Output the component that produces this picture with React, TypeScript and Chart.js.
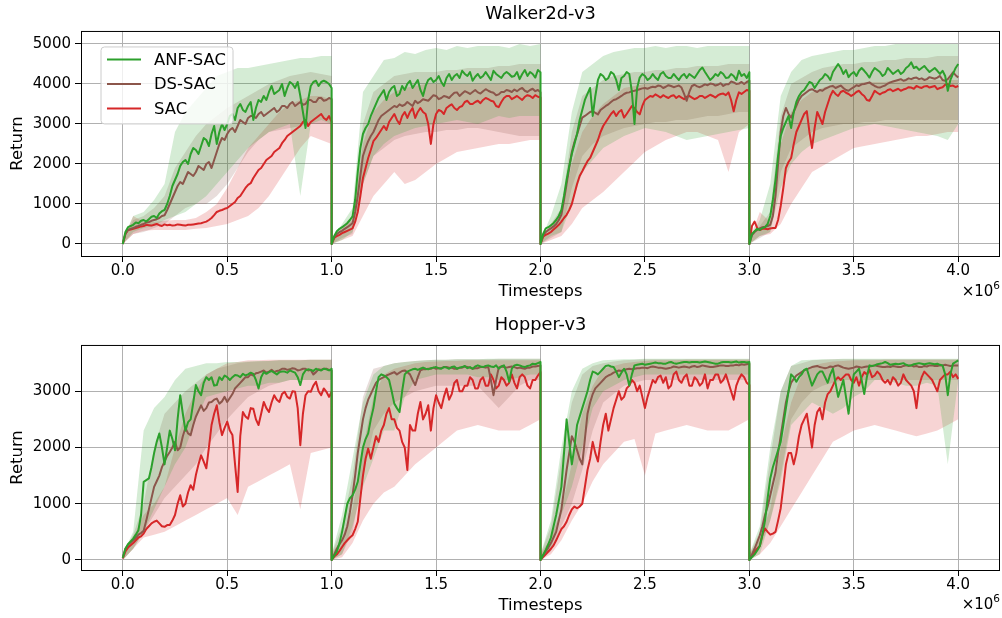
import { useEffect, useRef } from "react";
import { Chart, registerables } from "chart.js";

Chart.register(...registerables);

const FONT = "'DejaVu Sans', 'Liberation Sans', sans-serif";
const RUN_LENGTH = 1_000_000;
const CANVAS_W = 1002;
const CANVAS_H = 309;

const SERIES_LABELS = ["ANF-SAC", "DS-SAC", "SAC"];
const SERIES_COLORS = ["#2ca02c", "#8c564b", "#d62728"];
const BAND_COLORS = ["rgba(44,160,44,0.2)", "rgba(140,86,75,0.2)", "rgba(214,39,40,0.2)"];

const X_TICKS = [0, 500000, 1000000, 1500000, 2000000, 2500000, 3000000, 3500000, 4000000];
const WALKER_Y_TICKS = [0, 1000, 2000, 3000, 4000, 5000];
const HOPPER_Y_TICKS = [0, 1000, 2000, 3000];

// Each series is stored as four consecutive training runs of 1e6 timesteps.
// Mean returns (dense sampling) and band edges (coarser sampling) per run.

// ---------- Walker2d-v3 ----------
const walkerAnf = [
  [0, 300, 420, 450, 480, 540, 520, 580, 600, 560, 620, 680, 700, 650, 760, 820, 850, 1000, 1200, 1450, 1600, 1750, 1950, 2050, 2100, 2000, 2250, 2400, 2350, 2250, 2450, 2650, 2600, 2450, 2750, 2950, 2500, 2800, 3000, 2850, 3000, 3200, 3250, 3100, 3400, 3500, 3350, 3300, 3450, 3550, 3100, 3400, 3600, 3550, 3700, 3600, 3800, 3950, 3750, 3800, 3850, 4000, 3700, 3900, 4050, 4000, 3900, 4050, 3700, 3300, 2900, 3600, 3950, 4050, 4080, 3950, 4050, 4080, 4050, 4000, 3900],
  [0, 200, 320, 380, 420, 470, 520, 600, 690, 1100, 1800, 2400, 2750, 2900, 3000, 3200, 3350, 3500, 3650, 3750, 3850, 3600, 3800, 3900, 3950, 3700, 3750, 3950, 3850, 4000, 4080, 3900, 4000, 4100, 3850, 3700, 3950, 4100, 4150, 4050, 4100, 4200, 4050, 3950, 4150, 4250, 4100, 4200, 4250, 4150, 4330, 4250, 4200, 4300, 4080, 4180, 4250, 4150, 4200, 4300, 4200, 4100, 4330, 4250, 4200, 4150, 4250, 4300, 4250, 4180, 4200, 4300, 4120, 4250, 4350, 4200, 4300, 4250, 4160, 4350, 4290],
  [0, 250, 390, 420, 470, 520, 600, 700, 850, 1200, 1600, 1950, 2250, 2500, 2750, 3100, 3350, 3600, 3750, 3900, 3200, 3700, 4100, 4250, 4200, 4100, 4150, 4300, 4250, 4100, 3850, 4150, 4200, 4300, 4250, 3800, 3000, 3900, 4160, 4250, 4200, 4100, 4150, 4250, 4160, 4100, 4250, 4300, 4200, 4150, 4150, 4250, 4170, 4100, 4200, 4250, 4150, 4250, 4200, 4150, 4250, 4350, 4410, 4300, 4200, 4100, 4160, 4250, 4200, 4300, 4250, 4150, 4160, 4250, 4200, 4100, 4330, 4200, 4250, 4150, 4290],
  [0, 250, 320, 380, 350, 400, 420, 500, 700, 1100, 1600, 2200, 2700, 2900, 3050, 3200, 2900, 3300, 3550, 3700, 3800, 3850, 3950, 4050, 4020, 3900, 4000, 4100, 4150, 4250, 4200, 4100, 4300, 4400, 4500, 4400, 4250, 4350, 4170, 4250, 4300, 4200, 4330, 4400, 4330, 4250, 4160, 4300, 4400, 4350, 4300, 4200, 4250, 4400, 4330, 4250, 4300, 4350, 4250, 4300, 4400, 4450, 4540, 4400, 4430, 4350, 4400, 4450, 4370, 4300, 4350, 4400, 4330, 4250, 4330, 4200, 3830, 4100, 4250, 4400, 4500],
];
const walkerDs = [
  [0, 250, 350, 380, 400, 430, 450, 480, 500, 540, 550, 580, 600, 620, 650, 700, 720, 850, 1000, 1150, 1300, 1450, 1550, 1500, 1650, 1800, 1750, 1700, 1800, 1950, 1900, 1850, 2000, 2050, 1900, 2100, 2300, 2500, 2650, 2600, 2750, 2850, 2900, 2800, 2950, 3100, 3050, 3000, 3150, 3200, 3200, 3150, 3250, 3300, 3200, 3250, 3300, 3350, 3400, 3300, 3350, 3450, 3450, 3400, 3500, 3550, 3450, 3500, 3550, 3480, 3500, 3600, 3600, 3550, 3550, 3650, 3650, 3580, 3600, 3650, 3620],
  [0, 180, 250, 300, 330, 380, 420, 470, 520, 800, 1200, 1700, 2200, 2400, 2570, 2700, 2800, 2950, 3100, 3200, 3250, 3300, 3350, 3400, 3450, 3420, 3490, 3450, 3480, 3550, 3500, 3450, 3580, 3520, 3560, 3620, 3600, 3580, 3650, 3720, 3700, 3620, 3650, 3700, 3680, 3650, 3720, 3780, 3790, 3700, 3760, 3820, 3790, 3750, 3800, 3850, 3790, 3760, 3820, 3870, 3830, 3800, 3780, 3720, 3740, 3800, 3800, 3850, 3830, 3800, 3860, 3820, 3870, 3900, 3830, 3800, 3850, 3880, 3820, 3850, 3790],
  [0, 220, 300, 350, 390, 440, 500, 600, 730, 1100, 1500, 1900, 2300, 2550, 2740, 2950, 3160, 3200, 3250, 3300, 3320, 3280, 3240, 3350, 3400, 3450, 3490, 3550, 3600, 3620, 3660, 3700, 3750, 3780, 3790, 3820, 3830, 3850, 3870, 3890, 3900, 3880, 3910, 3930, 3920, 3960, 3950, 3900, 3930, 3970, 3950, 3920, 3940, 3960, 3910, 3750, 3580, 3800, 3950, 3980, 3940, 3920, 3950, 3990, 3970, 4010, 4000, 3960, 3980, 4020, 3950, 3990, 3990, 4060, 4040, 4000, 4010, 4050, 4000, 4050, 4080],
  [0, 220, 300, 350, 390, 420, 430, 450, 480, 700, 1200, 2000, 2800, 3200, 3400, 3250, 3160, 3300, 3450, 3600, 3700, 3750, 3800, 3850, 3870, 3830, 3800, 3850, 3830, 3880, 3910, 3940, 3950, 3900, 3930, 3960, 3900, 3850, 3830, 3880, 3920, 3970, 3950, 3990, 4000, 4020, 4040, 3990, 3950, 3920, 3910, 3940, 3960, 4010, 4040, 4060, 4080, 4100, 4120, 4080, 4100, 4140, 4120, 4150, 4160, 4120, 4140, 4100, 4120, 4170, 4150, 4130, 4160, 4200, 4100, 4080, 4120, 4200, 4290, 4220, 4160],
];
const walkerSac = [
  [0, 250, 350, 360, 380, 400, 420, 440, 450, 480, 470, 460, 480, 500, 470, 450, 490, 470, 480, 460, 470, 490, 480, 470, 460, 480, 480, 490, 500, 510, 520, 540, 560, 600, 650, 720, 800, 830, 850, 880, 900, 950, 1000, 1050, 1150, 1200, 1300, 1400, 1480, 1520, 1650, 1750, 1850, 1900, 2000, 2100, 2150, 2200, 2300, 2350, 2400, 2520, 2600, 2700, 2750, 2800, 2850, 2900, 2950, 3050, 3100, 2950, 3050, 3100, 3150, 3200, 3250, 3150, 3100, 3200, 3050],
  [0, 150, 200, 230, 270, 300, 330, 360, 390, 550, 800, 1200, 1650, 1900, 2150, 2350, 2570, 2650, 2750, 2850, 2950, 2850, 3050, 3150, 3250, 3100, 3000, 3200, 3300, 3150, 3300, 3400, 3150, 3300, 3400, 3300, 3250, 3000, 2500, 3000, 3250, 3350, 3320, 3250, 3400, 3450, 3490, 3400, 3350, 3420, 3450, 3550, 3580, 3500, 3500, 3550, 3580, 3520, 3600, 3650, 3620, 3580, 3560, 3450, 3420, 3550, 3650, 3700, 3700, 3620, 3660, 3700, 3650, 3600, 3680, 3720, 3700, 3650, 3720, 3680, 3660],
  [0, 180, 230, 260, 300, 360, 420, 480, 560, 650, 730, 850, 1000, 1250, 1500, 1700, 1820, 1950, 2070, 2150, 2300, 2450, 2600, 2800, 2950, 3050, 3150, 3250, 3320, 3200, 3300, 3350, 3160, 3250, 3350, 3450, 3400, 3300, 3240, 3450, 3600, 3650, 3700, 3680, 3740, 3700, 3660, 3720, 3680, 3650, 3700, 3720, 3650, 3700, 3660, 3620, 3680, 3700, 3660, 3620, 3650, 3700, 3700, 3650, 3690, 3730, 3700, 3660, 3720, 3750, 3760, 3720, 3790, 3600, 3320, 3600, 3790, 3750, 3800, 3850, 3830],
  [0, 450, 560, 400, 350, 380, 380, 370, 390, 400, 400, 600, 950, 1400, 1900, 2050, 2150, 2500, 2800, 2950, 3100, 3250, 3320, 2800, 2400, 2900, 3300, 3150, 3000, 3300, 3500, 3700, 3830, 3750, 3700, 3800, 3830, 3780, 3750, 3700, 3740, 3800, 3830, 3750, 3700, 3600, 3580, 3700, 3830, 3780, 3740, 3780, 3800, 3850, 3870, 3820, 3850, 3880, 3830, 3860, 3880, 3920, 3910, 3880, 3950, 3920, 3900, 3940, 3950, 3910, 3930, 3950, 3870, 3900, 3920, 3980, 4000, 3950, 3960, 3920, 3950],
];
const walkerAnfHigh = [
  [100, 700, 800, 1100, 1500, 2800, 3300, 3600, 3900, 4200, 4300, 4400, 4400, 4450, 4500, 4550, 4600, 4650, 4650, 4700, 4700],
  [100, 500, 900, 3800, 4200, 4600, 4650, 4800, 4750, 4850, 4900, 4850, 4950, 4900, 4950, 4950, 4950, 4900, 5000, 4950, 5000],
  [100, 700, 1500, 3300, 4300, 4500, 4700, 4800, 4850, 4900, 4900, 4950, 4900, 4950, 4950, 4900, 4950, 4950, 4950, 4950, 4950],
  [100, 600, 1500, 3700, 4300, 4600, 4700, 4750, 4800, 4850, 4850, 4900, 4950, 4950, 5000, 5000, 5000, 5000, 5000, 5000, 5000],
];
const walkerAnfLow = [
  [0, 300, 400, 450, 600, 700, 800, 1000, 1200, 1500, 1800, 2100, 2400, 2600, 2800, 2900, 3000, 1200, 3000, 3100, 3000],
  [0, 100, 300, 1500, 2200, 2500, 2700, 2800, 2900, 2950, 3000, 3050, 3100, 3050, 3000, 3100, 3200, 3150, 3200, 3200, 3200],
  [0, 200, 300, 1000, 1800, 2100, 2400, 2550, 2700, 2800, 2900, 2850, 2800, 2700, 2600, 2650, 2700, 2750, 2800, 2850, 2900],
  [0, 200, 300, 1400, 2000, 2300, 2500, 2600, 2700, 2800, 2900, 2950, 3000, 2950, 2900, 2850, 2800, 2750, 2700, 2600, 3000],
];
const walkerDsHigh = [
  [100, 600, 700, 900, 1200, 1900, 2300, 2700, 3000, 3200, 3400, 3550, 3700, 3850, 4000, 4100, 4200, 4250, 4300, 4250, 4200],
  [100, 450, 700, 3000, 3800, 4000, 4200, 4250, 4300, 4300, 4300, 4350, 4350, 4400, 4400, 4400, 4450, 4450, 4500, 4500, 4500],
  [100, 500, 900, 2800, 3700, 3900, 4100, 4200, 4250, 4300, 4300, 4350, 4350, 4400, 4400, 4450, 4450, 4450, 4500, 4500, 4500],
  [100, 450, 800, 3200, 4000, 4150, 4300, 4400, 4450, 4500, 4500, 4550, 4550, 4600, 4600, 4650, 4650, 4650, 4700, 4700, 4700],
];
const walkerDsLow = [
  [0, 250, 300, 400, 500, 700, 900, 1000, 1000, 1200, 1500, 1900, 2300, 2600, 2800, 2850, 2900, 2950, 3000, 3000, 3000],
  [0, 150, 250, 1500, 2200, 2400, 2600, 2700, 2750, 2800, 2800, 2850, 2850, 2900, 2900, 2850, 2800, 2750, 2700, 2700, 2700],
  [0, 150, 300, 1400, 2200, 2500, 2700, 2800, 2900, 2950, 3000, 3050, 3050, 3100, 3100, 3150, 3200, 3200, 3250, 3300, 3300],
  [0, 150, 300, 1800, 2400, 2600, 2800, 2900, 2950, 3000, 3000, 3050, 3050, 3100, 3100, 3100, 3100, 3100, 3100, 3100, 3100],
];
const walkerSacHigh = [
  [100, 700, 550, 550, 580, 600, 600, 650, 800, 1000, 1400, 1900, 2400, 2700, 3000, 3300, 3500, 3600, 3700, 3700, 3600],
  [100, 400, 600, 2500, 3300, 3600, 3800, 3900, 3950, 4000, 4000, 4000, 4000, 4000, 4000, 4000, 4000, 4000, 4000, 4000, 4000],
  [100, 500, 800, 2000, 2800, 3200, 3500, 3700, 3900, 3950, 4000, 4000, 4000, 4000, 4000, 4000, 4000, 4000, 4000, 4000, 4000],
  [100, 800, 550, 2500, 3300, 3600, 3800, 3900, 4000, 4000, 4000, 4050, 4050, 4050, 4100, 4100, 4100, 4100, 4100, 4100, 4100],
];
const walkerSacLow = [
  [0, 250, 330, 350, 350, 350, 350, 380, 400, 450, 500, 600, 700, 900, 1200, 1600, 2000, 2400, 2700, 2600, 2500],
  [0, 100, 200, 700, 1200, 1500, 1800, 1500, 1600, 1800, 2000, 2150, 2300, 2350, 2400, 2450, 2500, 2500, 2550, 2600, 2600],
  [0, 100, 200, 500, 900, 1100, 1300, 1550, 1800, 2050, 2300, 2450, 2600, 2700, 2800, 2800, 2700, 2600, 1800, 2800, 3000],
  [0, 200, 250, 500, 1000, 1400, 1800, 1950, 2100, 2250, 2400, 2450, 2500, 2550, 2600, 2650, 2700, 2700, 2750, 2800, 2800],
];

// ---------- Hopper-v3 ----------
const hopperAnf = [
  [40, 200, 280, 330, 380, 450, 530, 800, 1390, 1420, 1450, 1650, 1900, 2100, 2250, 2000, 1700, 2000, 2300, 2150, 1950, 2500, 2930, 2600, 2300, 2450, 2500, 2800, 3110, 3000, 2930, 3150, 3250, 3200, 3250, 3100, 3110, 3250, 3200, 3280, 3250, 3200, 3250, 3290, 3280, 3250, 3310, 3280, 3300, 3330, 3310, 3200, 3050, 3250, 3340, 3310, 3340, 3360, 3330, 3300, 3340, 3350, 3350, 3330, 3370, 3350, 3330, 3250, 3110, 3300, 3370, 3390, 3380, 3360, 3400, 3380, 3370, 3400, 3390, 3370, 3400],
  [0, 80, 150, 300, 500, 750, 1000, 1100, 1150, 1250, 1390, 1700, 2000, 2150, 2250, 2500, 2700, 3000, 3250, 3300, 3280, 3250, 3200, 3000, 2780, 2700, 2630, 3000, 3300, 3350, 3370, 3390, 3400, 3380, 3400, 3420, 3400, 3390, 3410, 3420, 3430, 3410, 3400, 3430, 3420, 3400, 3430, 3440, 3400, 3420, 3430, 3450, 3410, 3430, 3400, 3440, 3460, 3440, 3430, 3450, 3460, 3440, 3430, 3460, 3400, 3440, 3460, 3350, 3170, 3400, 3460, 3470, 3460, 3440, 3430, 3450, 3460, 3490, 3480, 3500, 3520],
  [0, 90, 180, 280, 400, 600, 800, 1050, 1300, 1900, 2500, 2100, 1700, 2000, 2400, 2550, 2700, 2850, 3000, 3200, 3350, 3330, 3300, 3350, 3400, 3450, 3460, 3440, 3430, 3350, 3250, 3330, 3400, 3300, 3100, 3300, 3460, 3470, 3480, 3490, 3470, 3480, 3490, 3500, 3510, 3500, 3500, 3490, 3490, 3510, 3520, 3500, 3490, 3500, 3510, 3520, 3520, 3510, 3520, 3520, 3520, 3510, 3520, 3530, 3520, 3510, 3500, 3490, 3490, 3510, 3520, 3520, 3520, 3510, 3520, 3530, 3510, 3520, 3520, 3510, 3520],
  [0, 50, 100, 170, 250, 450, 700, 1100, 1450, 1650, 1800, 1950, 2100, 2400, 2700, 3000, 3300, 3250, 3170, 3250, 3300, 3380, 3400, 3250, 3100, 3200, 3300, 3350, 3350, 3250, 3150, 3300, 3400, 3150, 2900, 3050, 3200, 2900, 2600, 3000, 3300, 3350, 3400, 3200, 2950, 3250, 3460, 3450, 3460, 3480, 3490, 3500, 3520, 3500, 3470, 3480, 3490, 3480, 3490, 3500, 3470, 3460, 3460, 3480, 3490, 3500, 3490, 3480, 3490, 3500, 3490, 3480, 3490, 3470, 3460, 3300, 2930, 3300, 3490, 3520, 3550],
];
const hopperDs = [
  [40, 200, 270, 310, 350, 400, 450, 480, 520, 700, 900, 1100, 1300, 1400, 1500, 1650, 1750, 1850, 1920, 2000, 2100, 1950, 2000, 2200, 2350, 2250, 2220, 2400, 2550, 2650, 2750, 2650, 2700, 2800, 2810, 2850, 2870, 2780, 2820, 2900, 2810, 2880, 2950, 3050, 3100, 3150, 3200, 3250, 3250, 3300, 3280, 3320, 3330, 3350, 3370, 3330, 3350, 3380, 3340, 3360, 3370, 3400, 3400, 3380, 3390, 3410, 3400, 3370, 3380, 3400, 3400, 3370, 3380, 3300, 3340, 3390, 3380, 3400, 3400, 3380, 3370],
  [0, 100, 200, 280, 350, 450, 600, 850, 1150, 1500, 1900, 2200, 2500, 2700, 2850, 2950, 3050, 3150, 3200, 3230, 3250, 3280, 3300, 3320, 3340, 3300, 3330, 3360, 3370, 3340, 3300, 3200, 3110, 3250, 3370, 3390, 3390, 3400, 3400, 3420, 3400, 3410, 3410, 3430, 3430, 3420, 3420, 3400, 3400, 3420, 3420, 3440, 3430, 3420, 3400, 3410, 3410, 3430, 3430, 3420, 3430, 3200, 2930, 3200, 3420, 3440, 3430, 3420, 3430, 3440, 3430, 3410, 3420, 3410, 3400, 3420, 3420, 3440, 3440, 3450, 3460],
  [0, 80, 150, 220, 300, 400, 500, 700, 900, 1250, 1600, 1900, 2200, 2100, 1950, 1800, 1700, 2150, 2600, 2800, 2950, 3050, 3100, 3150, 3200, 3250, 3280, 3300, 3330, 3350, 3370, 3360, 3380, 3390, 3400, 3390, 3400, 3410, 3410, 3420, 3420, 3410, 3430, 3440, 3430, 3420, 3420, 3410, 3400, 3410, 3420, 3440, 3430, 3420, 3430, 3440, 3430, 3420, 3440, 3450, 3430, 3440, 3460, 3450, 3440, 3430, 3430, 3440, 3450, 3460, 3460, 3450, 3450, 3460, 3460, 3470, 3460, 3480, 3470, 3480, 3490],
  [0, 100, 200, 320, 440, 600, 800, 950, 1150, 1350, 1550, 1900, 2200, 2500, 2800, 3000, 3150, 3220, 3280, 3310, 3340, 3370, 3390, 3410, 3430, 3440, 3450, 3430, 3420, 3410, 3420, 3440, 3430, 3450, 3460, 3440, 3420, 3410, 3400, 3410, 3420, 3440, 3430, 3420, 3430, 3440, 3440, 3450, 3460, 3450, 3440, 3430, 3430, 3440, 3430, 3450, 3440, 3430, 3430, 3450, 3460, 3450, 3460, 3440, 3450, 3430, 3430, 3450, 3440, 3460, 3460, 3450, 3450, 3460, 3460, 3470, 3460, 3450, 3460, 3460, 3460],
];
const hopperSac = [
  [30, 150, 220, 260, 300, 350, 400, 420, 470, 550, 600, 650, 680, 700, 650, 600, 590, 620, 620, 700, 800, 1000, 1150, 950, 1000, 1200, 1330, 1250, 1510, 1700, 1860, 1750, 1630, 2000, 2400, 2600, 2750, 2450, 2220, 2350, 2460, 2300, 2220, 1700, 1210, 2200, 2630, 2550, 2510, 2700, 2690, 2500, 2400, 2600, 2810, 2700, 2630, 2800, 2930, 2850, 2810, 2950, 2990, 2900, 2870, 3000, 2990, 2700, 2040, 2600, 2930, 3000, 2990, 3100, 3170, 3000, 2930, 3050, 2990, 2900, 2990],
  [0, 60, 100, 160, 230, 300, 350, 400, 440, 550, 680, 1100, 1500, 1800, 1980, 1800, 2000, 2200, 2100, 2300, 2400, 2600, 2700, 2500, 2500, 2350, 2300, 2100, 2000, 1600, 2400, 2300, 2300, 2600, 2810, 2500, 2600, 2750, 2300, 2700, 2930, 2800, 2700, 2900, 3050, 2850, 2950, 3150, 3200, 3000, 3000, 3100, 3100, 3250, 3200, 3050, 3050, 3200, 3250, 3100, 3100, 3300, 3200, 3050, 3100, 3250, 3200, 3100, 3150, 3300, 3150, 3050, 3250, 3300, 3250, 3100, 3050, 3200, 3200, 3280, 3340],
  [0, 50, 100, 150, 200, 260, 350, 450, 550, 600, 680, 800, 900, 950, 920, 950, 1000, 1300, 1600, 1800, 2100, 1900, 1750, 2100, 2400, 2600, 2300, 2500, 2700, 2850, 3000, 2850, 2900, 3050, 3100, 3200, 3150, 3000, 3100, 2900, 2700, 2900, 3050, 3200, 3150, 3250, 3280, 3150, 3250, 3050, 3100, 3300, 3350, 3200, 3150, 3250, 3300, 3100, 3100, 3250, 3200, 3100, 3150, 3300, 3050, 3200, 3200, 3300, 3300, 3150, 3200, 3300, 3150, 3000, 2850, 3100, 3220, 3300, 3250, 3150, 3110],
  [0, 80, 150, 200, 250, 450, 560, 500, 450, 470, 500, 700, 920, 1300, 1700, 1900, 1900, 1700, 1900, 2200, 2400, 2500, 2600, 2300, 2000, 2400, 2630, 2700, 2500, 2800, 2950, 3000, 3100, 3200, 3250, 3200, 3250, 3300, 3300, 3200, 3150, 3250, 3100, 3250, 3340, 3300, 3380, 3250, 3280, 3350, 3300, 3200, 3150, 3200, 3120, 3250, 3200, 3100, 3150, 3300, 3200, 3150, 3100, 3000, 2700, 3100, 3250, 3350, 3300, 3250, 3200, 3100, 3000, 3200, 3250, 3300, 3300, 3350, 3250, 3300, 3220],
];
const hopperAnfHigh = [
  [100, 500, 2300, 2700, 2900, 3200, 3400, 3450, 3500, 3500, 3520, 3520, 3530, 3540, 3540, 3550, 3550, 3550, 3560, 3560, 3560],
  [100, 800, 1800, 2800, 3300, 3450, 3500, 3520, 3540, 3550, 3560, 3560, 3570, 3570, 3570, 3580, 3580, 3580, 3580, 3580, 3580],
  [100, 700, 2000, 3000, 3400, 3500, 3550, 3560, 3570, 3570, 3580, 3580, 3580, 3580, 3580, 3580, 3580, 3580, 3580, 3580, 3580],
  [100, 600, 2000, 3000, 3450, 3550, 3560, 3570, 3570, 3580, 3580, 3580, 3580, 3580, 3580, 3580, 3580, 3580, 3580, 3580, 3580],
];
const hopperAnfLow = [
  [0, 200, 500, 900, 1300, 1700, 2000, 2500, 2900, 2950, 3000, 3050, 3100, 3100, 3150, 3150, 3200, 3200, 3200, 3200, 3200],
  [0, 100, 600, 1300, 1800, 2300, 2300, 2900, 3200, 3250, 3300, 3300, 3300, 3300, 3250, 3250, 3200, 3200, 3250, 3300, 3300],
  [0, 200, 800, 1300, 2000, 2700, 3000, 3100, 3200, 3250, 3300, 3300, 3300, 3300, 3300, 3300, 3300, 3300, 3300, 3300, 3300],
  [0, 100, 700, 1400, 2400, 2600, 2800, 2700, 2600, 2700, 2900, 3000, 3200, 3200, 3150, 3100, 3100, 3150, 3100, 1700, 3200],
];
const hopperDsHigh = [
  [100, 450, 1000, 2000, 2600, 2800, 3000, 3150, 3300, 3400, 3450, 3500, 3520, 3530, 3540, 3550, 3550, 3550, 3560, 3560, 3560],
  [100, 600, 1500, 2900, 3400, 3450, 3500, 3520, 3540, 3550, 3560, 3560, 3570, 3570, 3570, 3570, 3580, 3580, 3580, 3580, 3580],
  [100, 600, 1800, 2800, 3300, 3450, 3500, 3530, 3550, 3560, 3570, 3570, 3570, 3570, 3570, 3570, 3570, 3570, 3570, 3570, 3570],
  [100, 500, 1800, 3000, 3450, 3500, 3550, 3560, 3570, 3570, 3570, 3570, 3570, 3570, 3570, 3570, 3570, 3570, 3570, 3570, 3570],
];
const hopperDsLow = [
  [0, 200, 500, 800, 1100, 1300, 1500, 1700, 2000, 2250, 2500, 2700, 2900, 3000, 3100, 3150, 3200, 3200, 3200, 3200, 3200],
  [0, 100, 500, 1500, 2300, 2600, 2800, 2900, 3000, 3050, 3100, 3100, 3100, 3100, 3100, 2900, 2700, 2900, 3100, 3200, 3200],
  [0, 150, 600, 1000, 1600, 2300, 2800, 2950, 3100, 3150, 3200, 3200, 3200, 3200, 3200, 3200, 3200, 3200, 3200, 3200, 3200],
  [0, 200, 700, 1500, 2500, 2800, 3000, 3100, 3150, 3200, 3200, 3200, 3200, 3200, 3200, 3200, 3200, 3200, 3200, 3200, 3200],
];
const hopperSacHigh = [
  [100, 400, 800, 1000, 1300, 2000, 2600, 3000, 3300, 3400, 3500, 3520, 3550, 3550, 3560, 3560, 3560, 3560, 3560, 3560, 3560],
  [100, 400, 900, 2000, 2900, 3300, 3400, 3450, 3500, 3520, 3530, 3540, 3540, 3550, 3550, 3550, 3550, 3550, 3550, 3550, 3550],
  [100, 400, 900, 1700, 2600, 3100, 3400, 3450, 3500, 3520, 3540, 3550, 3550, 3550, 3560, 3560, 3560, 3560, 3560, 3560, 3560],
  [100, 400, 900, 2000, 2800, 3300, 3450, 3500, 3530, 3540, 3550, 3550, 3550, 3560, 3560, 3560, 3560, 3560, 3560, 3560, 3560],
];
const hopperSacLow = [
  [0, 200, 400, 450, 500, 600, 700, 800, 900, 1000, 1100, 800, 1300, 1400, 1500, 1600, 1700, 900, 1900, 1950, 2000],
  [0, 50, 300, 700, 1000, 1200, 1300, 1500, 1700, 1850, 2000, 2150, 2300, 2350, 2400, 2350, 2300, 2300, 2300, 2400, 2500],
  [0, 100, 350, 700, 1000, 1400, 1700, 1900, 2100, 2150, 1500, 2250, 2300, 2350, 2400, 2350, 2300, 2300, 2300, 2400, 2500],
  [0, 100, 300, 600, 900, 1200, 1500, 1800, 2100, 2200, 2300, 2350, 2400, 2350, 2300, 2250, 2200, 2250, 2300, 2400, 2500],
];

type Runs = number[][];

interface PanelSpec {
  title: string;
  top: number;
  yMin: number;
  yMax: number;
  yTicks: number[];
  lines: Runs[];
  lows: Runs[];
  highs: Runs[];
  titlePadTop: number;
  titlePadBottom: number;
  xAxisHeight: number;
  xTitlePadBottom: number;
  offsetBaseline: number;
  legend: boolean;
}

const PANELS: PanelSpec[] = [
  {
    title: "Walker2d-v3",
    top: 0,
    yMin: -300,
    yMax: 5325,
    yTicks: WALKER_Y_TICKS,
    lines: [walkerAnf, walkerDs, walkerSac],
    lows: [walkerAnfLow, walkerDsLow, walkerSacLow],
    highs: [walkerAnfHigh, walkerDsHigh, walkerSacHigh],
    titlePadTop: 3.3,
    titlePadBottom: 6.3,
    xAxisHeight: 53,
    xTitlePadBottom: 7.2,
    offsetBaseline: 40,
    legend: true,
  },
  {
    title: "Hopper-v3",
    top: 309,
    yMin: -178,
    yMax: 3823,
    yTicks: HOPPER_Y_TICKS,
    lines: [hopperAnf, hopperDs, hopperSac],
    lows: [hopperAnfLow, hopperDsLow, hopperSacLow],
    highs: [hopperAnfHigh, hopperDsHigh, hopperSacHigh],
    titlePadTop: 5.3,
    titlePadBottom: 9.3,
    xAxisHeight: 48,
    xTitlePadBottom: 2.2,
    offsetBaseline: 39.4,
    legend: false,
  },
];

// Runs are laid end to end along the timestep axis.
function toPoints(runs: Runs) {
  const pts: { x: number; y: number }[] = [];
  runs.forEach((run, r) => {
    run.forEach((y, k) => {
      pts.push({ x: (r + k / (run.length - 1)) * RUN_LENGTH, y });
    });
  });
  return pts;
}

function makeOverlay(spec: PanelSpec) {
  return {
    id: "panelOverlay",
    afterDraw(chart: any) {
      const { ctx, chartArea: a } = chart;
      ctx.save();
      // axes frame
      ctx.strokeStyle = "#000";
      ctx.lineWidth = 1;
      ctx.strokeRect(a.left + 0.5, a.top + 0.5, a.right - a.left - 1, a.bottom - a.top);

      // scale multiplier for the timestep axis
      const supSize = 10.5;
      ctx.fillStyle = "#000";
      ctx.textBaseline = "alphabetic";
      ctx.textAlign = "right";
      ctx.font = `${supSize}px ${FONT}`;
      const supW = ctx.measureText("6").width;
      const base = a.bottom + spec.offsetBaseline;
      ctx.fillText("6", a.right, base - 7);
      ctx.font = `15px ${FONT}`;
      ctx.fillText("\u00d710", a.right - supW, base);

      if (spec.legend) {
        const x0 = a.left + 20;
        const y0 = a.top + 16;
        const w = 132;
        const h = 77;
        const r = 3.5;
        ctx.beginPath();
        ctx.moveTo(x0 + r, y0);
        ctx.arcTo(x0 + w, y0, x0 + w, y0 + h, r);
        ctx.arcTo(x0 + w, y0 + h, x0, y0 + h, r);
        ctx.arcTo(x0, y0 + h, x0, y0, r);
        ctx.arcTo(x0, y0, x0 + w, y0, r);
        ctx.closePath();
        ctx.fillStyle = "rgba(255,255,255,0.8)";
        ctx.fill();
        ctx.strokeStyle = "#cccccc";
        ctx.lineWidth = 1;
        ctx.stroke();
        ctx.font = `16.4px ${FONT}`;
        ctx.textAlign = "left";
        ctx.textBaseline = "middle";
        for (let i = 0; i < SERIES_LABELS.length; i++) {
          const y = y0 + 12.5 + i * 24.5;
          ctx.strokeStyle = SERIES_COLORS[i];
          ctx.lineWidth = 2;
          ctx.beginPath();
          ctx.moveTo(x0 + 6, y);
          ctx.lineTo(x0 + 40, y);
          ctx.stroke();
          ctx.fillStyle = "#000";
          ctx.fillText(SERIES_LABELS[i], x0 + 53, y + 1);
        }
      }
      ctx.restore();
    },
  };
}

function Panel({ spec }: { spec: PanelSpec }) {
  const canvasRef = useRef<HTMLCanvasElement | null>(null);

  useEffect(() => {
    const canvas = canvasRef.current;
    if (!canvas) return;

    const datasets: any[] = [];
    spec.lines.forEach((runs, i) => {
      datasets.push({
        label: SERIES_LABELS[i],
        data: toPoints(runs),
        borderColor: SERIES_COLORS[i],
        backgroundColor: SERIES_COLORS[i],
        borderWidth: 2,
        borderJoinStyle: "round",
        pointRadius: 0,
        pointHoverRadius: 0,
        fill: false,
        tension: 0,
      });
    });
    spec.lows.forEach((runs, i) => {
      const lowIndex = datasets.length;
      datasets.push({
        label: `${SERIES_LABELS[i]} lower`,
        data: toPoints(runs),
        borderColor: "rgba(0,0,0,0)",
        borderWidth: 0,
        pointRadius: 0,
        pointHoverRadius: 0,
        fill: false,
        tension: 0,
      });
      datasets.push({
        label: `${SERIES_LABELS[i]} upper`,
        data: toPoints(spec.highs[i]),
        borderColor: "rgba(0,0,0,0)",
        backgroundColor: BAND_COLORS[i],
        borderWidth: 0,
        pointRadius: 0,
        pointHoverRadius: 0,
        fill: { target: lowIndex },
        tension: 0,
      });
    });

    const tickFont = { family: FONT, size: 15 };
    const labelFont = { family: FONT, size: 16.4 };

    const chart = new Chart(canvas, {
      type: "line",
      data: { datasets },
      options: {
        animation: false,
        responsive: false,
        events: [],
        layout: { padding: { left: 0, right: 2, top: 0, bottom: 0 } },
        plugins: {
          legend: { display: false },
          tooltip: { enabled: false },
          filler: { drawTime: "beforeDatasetsDraw", propagate: false },
          title: {
            display: true,
            text: spec.title,
            fullSize: false,
            color: "#000",
            font: { family: FONT, size: 17.8, weight: "normal" },
            padding: { top: spec.titlePadTop, bottom: spec.titlePadBottom },
          },
        },
        scales: {
          x: {
            type: "linear",
            min: -200000,
            max: 4200000,
            afterBuildTicks: (axis: any) => {
              axis.ticks = X_TICKS.map((value) => ({ value }));
            },
            afterFit: (axis: any) => {
              axis.height = spec.xAxisHeight;
            },
            ticks: {
              autoSkip: false,
              maxRotation: 0,
              color: "#000",
              font: tickFont,
              padding: 0,
              callback: (v: any) => (Number(v) / RUN_LENGTH).toFixed(1),
            },
            grid: {
              color: "#b0b0b0",
              lineWidth: 1,
              tickColor: "#000",
              tickLength: 6,
              drawTicks: true,
            },
            border: { display: false },
            title: {
              display: true,
              text: "Timesteps",
              color: "#000",
              font: labelFont,
              padding: { top: 0, bottom: spec.xTitlePadBottom },
            },
          },
          y: {
            type: "linear",
            min: spec.yMin,
            max: spec.yMax,
            afterBuildTicks: (axis: any) => {
              axis.ticks = spec.yTicks.map((value) => ({ value }));
            },
            afterFit: (axis: any) => {
              axis.width = 81;
            },
            ticks: {
              autoSkip: false,
              color: "#000",
              font: tickFont,
              padding: 4,
              callback: (v: any) => String(v),
            },
            grid: {
              color: "#b0b0b0",
              lineWidth: 1,
              tickColor: "#000",
              tickLength: 6,
              drawTicks: true,
            },
            border: { display: false },
            title: {
              display: true,
              text: "Return",
              color: "#000",
              font: labelFont,
              padding: { top: 8.2, bottom: 0 },
            },
          },
        },
      } as any,
      plugins: [makeOverlay(spec)],
    });

    return () => chart.destroy();
  }, [spec]);

  return (
    <canvas
      ref={canvasRef}
      width={CANVAS_W}
      height={CANVAS_H}
      style={{ position: "absolute", left: 0, top: spec.top, width: CANVAS_W, height: CANVAS_H }}
    />
  );
}

export default function App() {
  return (
    <div
      style={{
        position: "absolute",
        left: 0,
        top: 0,
        width: CANVAS_W,
        height: 618,
        background: "#ffffff",
        overflow: "hidden",
      }}
    >
      {PANELS.map((p) => (
        <Panel key={p.title} spec={p} />
      ))}
    </div>
  );
}
